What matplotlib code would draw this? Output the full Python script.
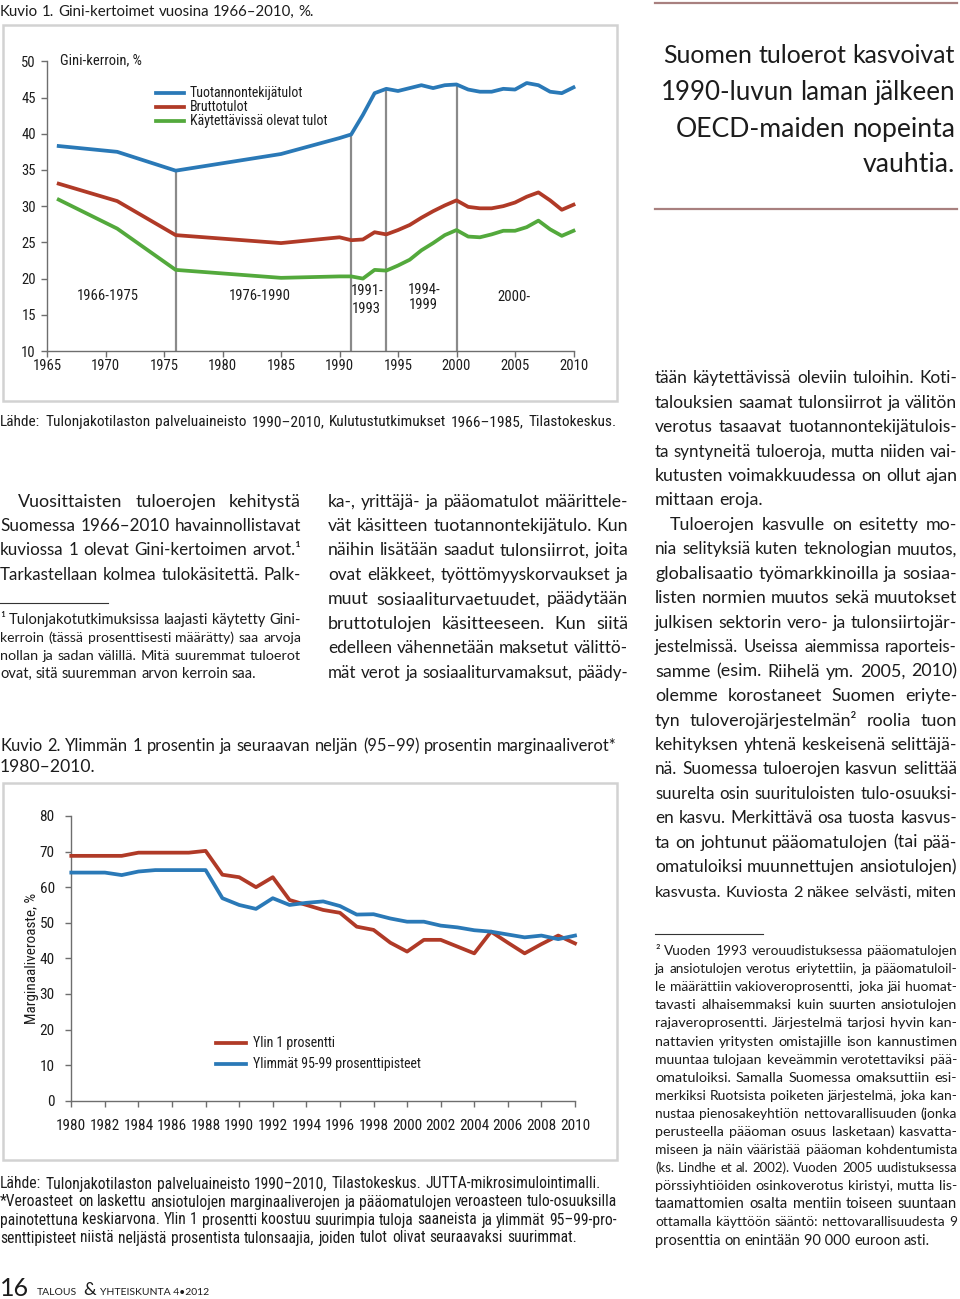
import matplotlib
matplotlib.use('Agg')
import matplotlib.pyplot as plt
from matplotlib.font_manager import FontProperties, findfont
from matplotlib.lines import Line2D
from matplotlib.patches import Rectangle


def pick(cands):
    for c in cands:
        try:
            findfont(FontProperties(family=c), fallback_to_default=False)
            return c
        except Exception:
            pass
    return 'DejaVu Sans'


BODY = pick(['Lato', 'Open Sans', 'Noto Sans'])
NARROW = pick(['Liberation Sans Narrow', 'Roboto Condensed', 'Lato'])

# ---------------- data: Kuvio 1 ----------------
gini_years = [1966, 1971, 1976, 1985, 1990, 1991, 1992, 1993, 1994, 1995, 1996, 1997, 1998,
              1999, 2000, 2001, 2002, 2003, 2004, 2005, 2006, 2007, 2008, 2009, 2010]
gini_factor = [38.3, 37.5, 34.9, 37.2, 39.4, 39.9, 42.6, 45.6, 46.2, 45.9, 46.3, 46.7, 46.3,
               46.7, 46.8, 46.1, 45.8, 45.8, 46.2, 46.1, 47.0, 46.7, 45.8, 45.6, 46.4]
gini_gross = [33.1, 30.7, 26.0, 24.9, 25.7, 25.3, 25.4, 26.4, 26.1, 26.7, 27.4, 28.4, 29.3,
              30.1, 30.8, 29.9, 29.7, 29.7, 30.0, 30.5, 31.3, 31.9, 30.8, 29.5, 30.2]
gini_disp = [30.9, 26.9, 21.2, 20.1, 20.3, 20.3, 20.0, 21.2, 21.1, 21.8, 22.6, 23.9, 24.9,
             26.0, 26.7, 25.8, 25.7, 26.1, 26.6, 26.6, 27.1, 28.0, 26.8, 25.9, 26.6]
gini_labels = ['Tuotannontekijätulot', 'Bruttotulot', 'Käytettävissä olevat tulot']
period_breaks = [1976, 1991, 1994, 2000]
gini_xticks = [1965, 1970, 1975, 1980, 1985, 1990, 1995, 2000, 2005, 2010]
gini_yticks = [10, 15, 20, 25, 30, 35, 40, 45, 50]

# ---------------- data: Kuvio 2 ----------------
mtr_years = [1980, 1981, 1982, 1983, 1984, 1985, 1986, 1987, 1988, 1989, 1990, 1991, 1992,
             1993, 1994, 1995, 1996, 1997, 1998, 1999, 2000, 2001, 2002, 2003, 2004, 2005,
             2006, 2007, 2008, 2009, 2010]
mtr_top1 = [68.8, 68.8, 68.8, 68.8, 69.7, 69.7, 69.7, 69.7, 70.2, 63.5, 62.8, 60.0, 62.8,
            56.4, 55.0, 53.6, 52.8, 48.9, 48.0, 44.4, 41.9, 45.2, 45.2, 43.3, 41.4, 47.5,
            44.4, 41.4, 44.0, 46.4, 44.2]
mtr_p95_99 = [64.1, 64.1, 64.1, 63.4, 64.4, 64.8, 64.8, 64.8, 64.8, 56.9, 55.0, 53.9, 56.9,
              55.0, 55.6, 56.0, 54.7, 52.3, 52.4, 51.2, 50.3, 50.3, 49.2, 48.7, 47.9, 47.5,
              46.7, 45.9, 46.4, 45.4, 46.4]
mtr_labels = ['Ylin 1 prosentti', 'Ylimmät 95-99 prosenttipisteet']
mtr_xticks = [1980, 1982, 1984, 1986, 1988, 1990, 1992, 1994, 1996, 1998, 2000, 2002, 2004,
              2006, 2008, 2010]
mtr_yticks = [0, 10, 20, 30, 40, 50, 60, 70, 80]

BLUE = '#2a79b7'
RED = '#b03a27'
GREEN = '#53a93c'
TXT = '#1c1c1c'
AXC = '#6e6e6e'

W, H = 960, 1299
fig = plt.figure(figsize=(W / 100, H / 100), dpi=100)
page = fig.add_axes([0, 0, 1, 1])
page.set_xlim(0, W)
page.set_ylim(H, 0)
page.axis('off')
R = fig.canvas.get_renderer()


def tw(s, fp):
    w, h, d = R.get_text_width_height_descent(s, fp, ismath=False)
    return w


def put_line(s, x0, x1, y, size, family=BODY, justify=True, ha='left', color=TXT):
    fp = FontProperties(family=family, size=size)
    words = s.split(' ')

    def meas(fp):
        ws = [tw(w, fp) for w in words]
        sp = tw('n n', fp) - 2 * tw('n', fp)
        return ws, sp, sum(ws) + sp * (len(words) - 1)

    ws, sp, nat = meas(fp)
    avail = x1 - x0
    if nat > avail:
        size = size * avail / nat * 0.995
        fp = FontProperties(family=family, size=size)
        ws, sp, nat = meas(fp)
    if justify and len(words) > 1:
        gap = (avail - sum(ws)) / (len(words) - 1)
        x = x0
    else:
        gap = sp
        x = x0 if ha == 'left' else x1 - nat
    for w, wd in zip(words, ws):
        page.text(x, y, w, fontproperties=fp, va='baseline', ha='left', color=color)
        x += wd + gap


def put_para(lines, x0, x1, y0, dy, size, family=BODY, indent=0, last_left=True):
    for i, s in enumerate(lines):
        last = (i == len(lines) - 1) and last_left
        xs = x0 + (indent if i == 0 else 0)
        put_line(s, xs, x1, y0 + i * dy, size, family, justify=not last)


# ---------------- page texts ----------------
put_line('Kuvio 1. Gini-kertoimet vuosina 1966–2010, %.', 0, 318, 16, 12.3, BODY, justify=False)

page.plot([655, 957], [3, 3], color='#a8807f', lw=1.6)
page.plot([655, 957], [209, 209], color='#a8807f', lw=1.6)
for s, yb in zip(['Suomen tuloerot kasvoivat', '1990-luvun laman jälkeen',
                  'OECD-maiden nopeinta', 'vauhtia.'], [63, 100, 136.5, 171.5]):
    put_line(s, 660, 955, yb, 19.2, BODY, justify=False, ha='right')

put_line('Lähde: Tulonjakotilaston palveluaineisto 1990–2010, Kulutustutkimukset 1966–1985, Tilastokeskus.',
         0, 617, 426, 11.3, NARROW, justify=True)

BS = 12.9
DY = 24.45
put_para(['Vuosittaisten tuloerojen kehitystä',
          'Suomessa 1966–2010 havainnollistavat',
          'kuviossa 1 olevat Gini-kertoimen arvot.¹',
          'Tarkastellaan kolmea tulokäsitettä. Palk-'],
         0, 301, 506.5, DY, BS, indent=18, last_left=False)

page.plot([0, 108], [603, 603], color='#333333', lw=0.8)
FS = 10.5
put_para(['¹ Tulonjakotutkimuksissa laajasti käytetty Gini-',
          'kerroin (tässä prosenttisesti määrätty) saa arvoja',
          'nollan ja sadan välillä. Mitä suuremmat tuloerot',
          'ovat, sitä suuremman arvon kerroin saa.'],
         0, 301, 624, 18, FS)

put_para(['ka-, yrittäjä- ja pääomatulot määrittele-',
          'vät käsitteen tuotannontekijätulo. Kun',
          'näihin lisätään saadut tulonsiirrot, joita',
          'ovat eläkkeet, työttömyyskorvaukset ja',
          'muut sosiaaliturvaetuudet, päädytään',
          'bruttotulojen käsitteeseen. Kun siitä',
          'edelleen vähennetään maksetut välittö-',
          'mät verot ja sosiaaliturvamaksut, päädy-'],
         328, 628, 506.5, DY, BS, last_left=False)

put_para(['tään käytettävissä oleviin tuloihin. Koti-',
          'talouksien saamat tulonsiirrot ja välitön',
          'verotus tasaavat tuotannontekijätulois-',
          'ta syntyneitä tuloeroja, mutta niiden vai-',
          'kutusten voimakkuudessa on ollut ajan',
          'mittaan eroja.'],
         655, 957, 383.2, DY, BS)
put_para(['Tuloerojen kasvulle on esitetty mo-',
          'nia selityksiä kuten teknologian muutos,',
          'globalisaatio työmarkkinoilla ja sosiaa-',
          'listen normien muutos sekä muutokset',
          'julkisen sektorin vero- ja tulonsiirtojär-',
          'jestelmissä. Useissa aiemmissa raporteis-',
          'samme (esim. Riihelä ym. 2005, 2010)',
          'olemme korostaneet Suomen eriyte-',
          'tyn tuloverojärjestelmän² roolia tuon',
          'kehityksen yhtenä keskeisenä selittäjä-',
          'nä. Suomessa tuloerojen kasvun selittää',
          'suurelta osin suurituloisten tulo-osuuksi-',
          'en kasvu. Merkittävä osa tuosta kasvus-',
          'ta on johtunut pääomatulojen (tai pää-',
          'omatuloiksi muunnettujen ansiotulojen)',
          'kasvusta. Kuviosta 2 näkee selvästi, miten'],
         655, 957, 383.2 + 6 * DY, DY, BS, indent=15, last_left=False)

page.plot([655, 763], [934, 934], color='#333333', lw=0.8)
put_para(['² Vuoden 1993 verouudistuksessa pääomatulojen',
          'ja ansiotulojen verotus eriytettiin, ja pääomatuloil-',
          'le määrättiin vakioveroprosentti, joka jäi huomat-',
          'tavasti alhaisemmaksi kuin suurten ansiotulojen',
          'rajaveroprosentti. Järjestelmä tarjosi hyvin kan-',
          'nattavien yritysten omistajille ison kannustimen',
          'muuntaa tulojaan keveämmin verotettaviksi pää-',
          'omatuloiksi. Samalla Suomessa omaksuttiin esi-',
          'merkiksi Ruotsista poiketen järjestelmä, joka kan-',
          'nustaa pienosakeyhtiön nettovarallisuuden (jonka',
          'perusteella pääoman osuus lasketaan) kasvatta-',
          'miseen ja näin vääristää pääoman kohdentumista',
          '(ks. Lindhe et al. 2002). Vuoden 2005 uudistuksessa',
          'pörssiyhtiöiden osinkoverotus kiristyi, mutta lis-',
          'taamattomien osalta mentiin toiseen suuntaan',
          'ottamalla käyttöön sääntö: nettovarallisuudesta 9',
          'prosenttia on enintään 90\u00a0000 euroon asti.'],
         655, 957, 955, 18.1, FS)

put_line('Kuvio 2. Ylimmän 1 prosentin ja seuraavan neljän (95–99) prosentin marginaaliverot*',
         0, 617, 751, 12.6, BODY, justify=True)
put_line('1980–2010.', 0, 100, 772, 12.6, BODY, justify=False)

NS = 11.4
put_line('Lähde: Tulonjakotilaston palveluaineisto 1990–2010, Tilastokeskus. JUTTA-mikrosimulointimalli.',
         0, 601, 1188.5, NS, NARROW, justify=True)
put_line('*Veroasteet on laskettu ansiotulojen marginaaliverojen ja pääomatulojen veroasteen tulo-osuuksilla',
         0, 617, 1206.5, NS, NARROW, justify=True)
put_line('painotettuna keskiarvona. Ylin 1 prosentti koostuu suurimpia tuloja saaneista ja ylimmät 95–99-pro-',
         0, 617, 1224.5, NS, NARROW, justify=True)
put_line('senttipisteet niistä neljästä prosentista tulonsaajia, joiden tulot olivat seuraavaksi suurimmat.',
         0, 577, 1242.5, NS, NARROW, justify=True)

page.text(0, 1296, '16', fontsize=18, family=BODY, color=TXT, va='baseline')
page.text(37, 1295, 'TALOUS', fontsize=7.5, family=BODY, color=TXT, va='baseline')
page.text(83, 1295, '&', fontsize=13, family=BODY, color=TXT, va='baseline')
page.text(100, 1295, 'YHTEISKUNTA 4•2012', fontsize=7.5, family=BODY, color=TXT, va='baseline')

# chart frames
page.add_patch(Rectangle((3, 25), 614, 376, fill=False, ec='#d2d2d2', lw=1.8))
page.add_patch(Rectangle((3, 783), 614, 377, fill=False, ec='#d2d2d2', lw=1.8))

# ---------------- Kuvio 1 ----------------
ax1 = fig.add_axes([47 / W, 1 - 351 / H, (573.5 - 47) / W, (351 - 61.3) / H])
ax1.set_facecolor('none')
ax1.set_xlim(1965, 2010)
ax1.set_ylim(10, 50)
for sp in ['top', 'right']:
    ax1.spines[sp].set_visible(False)
for sp in ['left', 'bottom']:
    ax1.spines[sp].set_color(AXC)
    ax1.spines[sp].set_linewidth(1.0)
ax1.set_xticks(gini_xticks)
ax1.set_yticks(gini_yticks)
ax1.tick_params(axis='both', direction='out', length=4, width=1, color=AXC,
                labelsize=10.5, labelcolor=TXT)
ax1.tick_params(axis='x', pad=2)
ax1.tick_params(axis='y', pad=4)
for lab in ax1.get_xticklabels() + ax1.get_yticklabels():
    lab.set_family(NARROW)

factor_at = dict(zip(gini_years, gini_factor))
ax1.vlines(period_breaks, 10, [factor_at[y] for y in period_breaks], color='#8a8a8a', lw=1.6, zorder=1)
for vals, col in zip([gini_factor, gini_gross, gini_disp], [BLUE, RED, GREEN]):
    ax1.plot(gini_years, vals, color=col, lw=2.7, solid_joinstyle='round', clip_on=False, zorder=3)

pfp = FontProperties(family=NARROW, size=10.5)
ax1.text(1970.2, 17.6, '1966-1975', fontproperties=pfp, ha='center', va='center', color=TXT)
ax1.text(1983.2, 17.6, '1976-1990', fontproperties=pfp, ha='center', va='center', color=TXT)
ax1.text(1992.4, 18.3, '1991-', fontproperties=pfp, ha='center', va='center', color=TXT)
ax1.text(1992.3, 15.8, '1993', fontproperties=pfp, ha='center', va='center', color=TXT)
ax1.text(1997.2, 18.4, '1994-', fontproperties=pfp, ha='center', va='center', color=TXT)
ax1.text(1997.2, 16.3, '1999', fontproperties=pfp, ha='center', va='center', color=TXT)
ax1.text(2004.9, 17.4, '2000-', fontproperties=pfp, ha='center', va='center', color=TXT)

page.text(60, 60, 'Gini-kerroin, %', fontproperties=FontProperties(family=NARROW, size=10.5),
          va='center', ha='left', color=TXT)
for lab, col, yy in zip(gini_labels, [BLUE, RED, GREEN], [92.7, 107, 120.7]):
    page.add_line(Line2D([156, 184], [yy, yy], color=col, lw=2.7))
    page.text(190, yy, lab, fontproperties=FontProperties(family=NARROW, size=10),
              va='center', ha='left', color=TXT)

# ---------------- Kuvio 2 ----------------
ax2 = fig.add_axes([71.3 / W, 1 - 1100.7 / H, (575 - 71.3) / W, (1100.7 - 816) / H])
ax2.set_facecolor('none')
ax2.set_xlim(1980, 2010)
ax2.set_ylim(0, 80)
for sp in ['top', 'right']:
    ax2.spines[sp].set_visible(False)
for sp in ['left', 'bottom']:
    ax2.spines[sp].set_color(AXC)
    ax2.spines[sp].set_linewidth(1.0)
ax2.set_xticks(mtr_xticks)
ax2.set_yticks(mtr_yticks)
ax2.tick_params(axis='both', direction='out', length=4, width=1, color=AXC,
                labelsize=11, labelcolor=TXT)
ax2.tick_params(axis='x', pad=9)
ax2.tick_params(axis='y', pad=8)
for lab in ax2.get_xticklabels() + ax2.get_yticklabels():
    lab.set_family(NARROW)
ax2.set_ylabel('Marginaaliveroaste, %', family=NARROW, fontsize=11, color=TXT)
ax2.yaxis.set_label_coords(-32 / (575 - 71.3), 0.5)
for vals, col in zip([mtr_top1, mtr_p95_99], [RED, BLUE]):
    ax2.plot(mtr_years, vals, color=col, lw=2.7, solid_joinstyle='round', clip_on=False, zorder=3)
for lab, col, yy in zip(mtr_labels, [RED, BLUE], [1043, 1064]):
    page.add_line(Line2D([216, 246], [yy, yy], color=col, lw=2.7))
    page.text(253, yy, lab, fontproperties=FontProperties(family=NARROW, size=10),
              va='center', ha='left', color=TXT)

fig.savefig('out.png', dpi=100)
